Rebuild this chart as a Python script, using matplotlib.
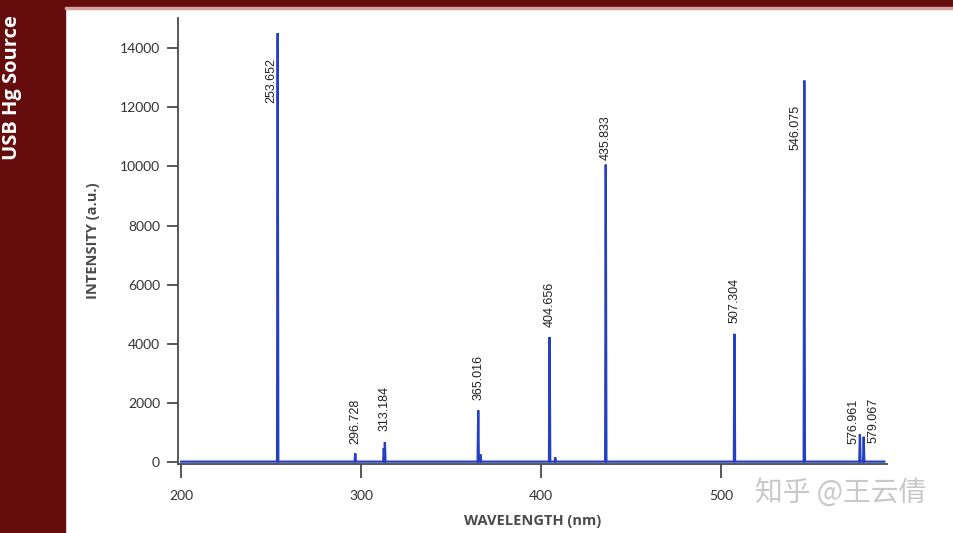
import matplotlib
matplotlib.use("Agg")
import matplotlib.pyplot as plt
from matplotlib.patches import Rectangle

# Hg emission lines (nm) and peak intensities
line_nm = [253.652, 296.728, 312.57, 313.184, 365.016, 366.33, 404.656,
           407.78, 435.833, 507.304, 546.075, 576.961, 579.067]
line_counts = [14500, 300, 480, 680, 1750, 260, 4230,
               160, 10060, 4340, 12900, 950, 860]
baseline_counts = 20

# labelled lines: text, wavelength, label y, side of the line
label_text = ["253.652", "296.728", "313.184", "365.016", "404.656",
              "435.833", "507.304", "546.075", "576.961", "579.067"]
label_nm = [253.652, 296.728, 313.184, 365.016, 404.656,
            435.833, 507.304, 546.075, 576.961, 579.067]
label_y = [12150, 600, 1050, 2100, 4580, 10200, 4700, 10550, 620, 640]
label_dx = [-3.6, 0, 0, 0, 0, 0, 0, -4.8, -3.6, 5.2]

xticks = [200, 300, 400, 500]
yticks = [0, 2000, 4000, 6000, 8000, 10000, 12000, 14000]

MAROON = "#650d0d"
BLUE = "#2340c4"
GREY = "#4a4a4a"

# spectrum trace: flat baseline with a narrow spike at each line
xs, ys = [200.0], [baseline_counts]
for c, h in sorted(zip(line_nm, line_counts)):
    xs += [c - 0.35, c, c + 0.35]
    ys += [baseline_counts, h, baseline_counts]
xs.append(590.5)
ys.append(baseline_counts)

fig = plt.figure(figsize=(9.54, 5.33), dpi=100)
fig.patch.set_facecolor("white")

# slide frame
fig.patches.append(Rectangle((0, 0), 65 / 954, 1, transform=fig.transFigure,
                             color=MAROON, zorder=0))
fig.patches.append(Rectangle((0, 1 - 7 / 533), 1, 7 / 533, transform=fig.transFigure,
                             color=MAROON, zorder=0))
fig.patches.append(Rectangle((65 / 954, 1 - 9 / 533), 1, 2 / 533, transform=fig.transFigure,
                             color="#d9a0a0", zorder=0))
fig.text(12 / 954, 1 - 88 / 533, "USB Hg Source", rotation=90, color="white",
         fontsize=14.5, fontweight="bold", family="Open Sans",
         ha="center", va="center")

ax = fig.add_axes([178 / 954, 1 - 464 / 533, (887 - 178) / 954, (464 - 18) / 533])
ax.plot(xs, ys, color=BLUE, lw=1.6, solid_joinstyle="miter", zorder=3)

for t, x, y, dx in zip(label_text, label_nm, label_y, label_dx):
    ax.text(x + dx, y, t, rotation=90, ha="center", va="bottom",
            fontsize=9, color="#222222", family="Liberation Sans")

ax.set_xlim(198.3, 592)
ax.set_ylim(-60, 15014)
ax.set_xticks(xticks)
ax.set_yticks(yticks)

for side in ("top", "right"):
    ax.spines[side].set_visible(False)
for side in ("left", "bottom"):
    ax.spines[side].set_color(GREY)
    ax.spines[side].set_linewidth(1.3)

ax.tick_params(axis="x", direction="out", length=10, width=1.3, color=GREY,
               pad=9, labelsize=10, labelcolor="#333333")
ax.tick_params(axis="y", direction="out", length=8, width=1.3, color=GREY,
               pad=5, labelsize=10, labelcolor="#333333")
for lbl in ax.get_xticklabels() + ax.get_yticklabels():
    lbl.set_family("Lato")

ax.set_xlabel("WAVELENGTH (nm)", fontsize=10.5, fontweight="bold", color=GREY,
              family="Open Sans", labelpad=8)
ax.set_ylabel("INTENSITY (a.u.)", fontsize=10.5, fontweight="bold", color=GREY,
              family="Open Sans", labelpad=14)

fig.text(841 / 954, 1 - 493 / 533, "知乎 @王云倩", color="#c8c8c8", fontsize=20,
         family=["Noto Sans CJK SC", "DejaVu Sans"], ha="center", va="center")

fig.savefig("out.png", dpi=100)
